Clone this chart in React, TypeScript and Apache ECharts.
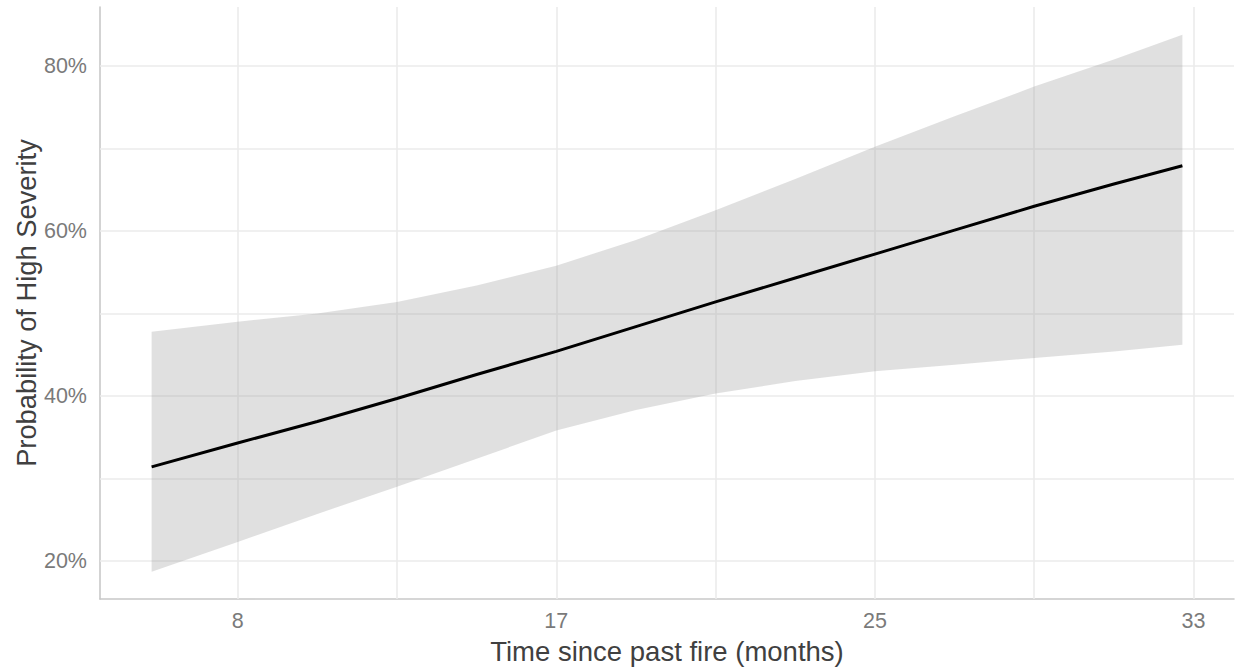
import React, { useEffect, useRef } from "react";
import * as echarts from "echarts";

// Standardised time since past fire (axis ticks at -1, 0, 1, 2 are labelled in months)
const timeScaled = [-1.27, -1, -0.75, -0.5, -0.25, 0, 0.25, 0.5, 0.75, 1, 1.25, 1.5, 1.75, 1.965];
// Predicted probability of high severity (%)
const fitPct = [31.4, 34.3, 36.9, 39.7, 42.6, 45.4, 48.4, 51.4, 54.3, 57.2, 60.1, 63.0, 65.7, 67.9];
const upperPct = [47.8, 49.0, 50.0, 51.4, 53.4, 55.8, 58.9, 62.5, 66.3, 70.2, 73.9, 77.5, 80.8, 83.8];
const lowerPct = [18.7, 22.3, 25.7, 29.0, 32.4, 35.8, 38.3, 40.3, 41.8, 43.0, 43.8, 44.6, 45.4, 46.2];

const xTickPositions = [-1, 0, 1, 2];
const xTickLabels = ["8", "17", "25", "33"];
const xGridLines = [-1, -0.5, 0, 0.5, 1, 1.5, 2];
const yTickValues = [20, 40, 60, 80];
const yTickLabels = ["20%", "40%", "60%", "80%"];
const yGridLines = [20, 30, 40, 50, 60, 70, 80];

const xTitle = "Time since past fire (months)";
const yTitle = "Probability of High Severity";

function lookup(v: number, positions: number[], labels: string[]): string {
  for (let i = 0; i < positions.length; i++) {
    if (Math.abs(positions[i] - v) < 1e-6) return labels[i];
  }
  return "";
}

export default function App() {
  const ref = useRef<HTMLDivElement>(null);
  useEffect(() => {
    document.body.style.margin = "0";
    const chart = echarts.init(ref.current!, null, { renderer: "svg" });
    const font = "'Liberation Sans', Arial, sans-serif";
    const gridColor = "#ebebeb";
    const axisColor = "#c8c8c8";

    const bandData = timeScaled.map((x, i) => [x, lowerPct[i], upperPct[i]]);
    const fitData = timeScaled.map((x, i) => [x, fitPct[i]]);

    chart.setOption({
      animation: false,
      backgroundColor: "#ffffff",
      grid: { left: 100, right: 2, top: 7, bottom: 72, outerBoundsMode: "none", containLabel: false },
      xAxis: {
        type: "value",
        min: -1.432,
        max: 2.127,
        name: xTitle,
        nameLocation: "middle",
        nameGap: 38,
        nameMoveOverlap: false,
        nameTextStyle: { fontFamily: font, fontSize: 27.5, color: "#404040" },
        axisLine: { show: true, onZero: false, lineStyle: { color: axisColor, width: 1.6 } },
        axisTick: { show: false, customValues: xTickPositions },
        axisLabel: {
          customValues: xTickPositions,
          margin: 11,
          fontFamily: font,
          fontSize: 21.5,
          color: "#7a7a7a",
          formatter: (v: number) => lookup(v, xTickPositions, xTickLabels),
        },
        splitLine: { show: false },
      },
      yAxis: {
        type: "value",
        min: 15.39,
        max: 87.15,
        name: yTitle,
        nameLocation: "middle",
        nameGap: 60,
        nameMoveOverlap: false,
        nameTextStyle: { fontFamily: font, fontSize: 27.3, color: "#404040" },
        axisLine: { show: true, onZero: false, lineStyle: { color: axisColor, width: 1.6 } },
        axisTick: { show: false, customValues: yTickValues },
        axisLabel: {
          customValues: yTickValues,
          margin: 13,
          fontFamily: font,
          fontSize: 21.5,
          color: "#7a7a7a",
          formatter: (v: number) => lookup(v, yTickValues, yTickLabels),
        },
        splitLine: { show: false },
      },
      series: [
        {
          type: "custom",
          data: bandData,
          encode: { x: 0, y: [1, 2] },
          silent: true,
          z: 2,
          renderItem: (params: any, api: any) => {
            if (params.dataIndex !== 0) return null;
            const top = bandData.map((d) => api.coord([d[0], d[2]]));
            const bottom = bandData.map((d) => api.coord([d[0], d[1]])).reverse();
            return {
              type: "polygon",
              shape: { points: top.concat(bottom), smooth: 0 },
              style: { fill: "rgba(153,153,153,0.3)", stroke: "none" },
            };
          },
        },
        {
          type: "line",
          data: fitData,
          symbol: "none",
          smooth: false,
          silent: true,
          lineStyle: { color: "#000000", width: 3 },
          z: 3,
          markLine: {
            silent: true,
            z: 1,
            symbol: ["none", "none"],
            label: { show: false },
            emphasis: { disabled: true },
            lineStyle: { color: gridColor, width: 1.6, type: "solid" },
            data: [
              ...xGridLines.map((v) => ({ xAxis: v })),
              ...yGridLines.map((v) => ({ yAxis: v })),
            ],
          },
        },
      ],
    });
    return () => chart.dispose();
  }, []);
  return <div ref={ref} style={{ width: 1236, height: 671 }} />;
}
